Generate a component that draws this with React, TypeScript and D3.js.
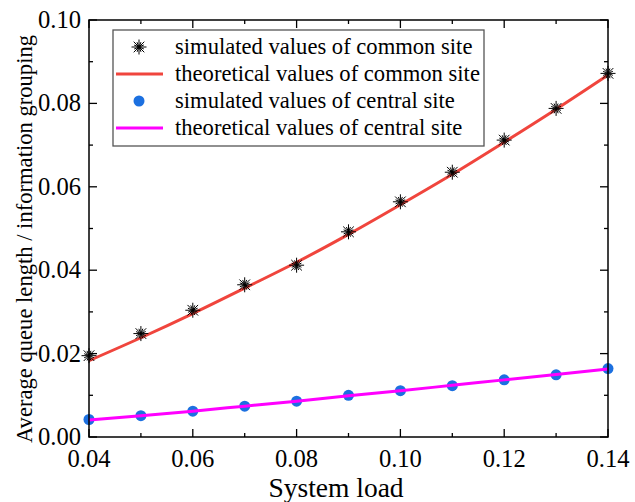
import React from "react";
import * as d3 from "d3";

// System load values (x axis)
const loads = [0.04, 0.05, 0.06, 0.07, 0.08, 0.09, 0.10, 0.11, 0.12, 0.13, 0.14];

// Common site: simulated and theoretical average queue length
const commonSimulated = [0.0195, 0.0248, 0.0304, 0.0365, 0.0412, 0.0492, 0.0564, 0.0635, 0.0712, 0.0788, 0.0872];
const commonTheoretical = [0.0183, 0.0238, 0.0296, 0.0357, 0.0419, 0.0486, 0.0557, 0.0630, 0.0707, 0.0786, 0.0868];

// Central site: simulated and theoretical average queue length
const centralSimulated = [0.0042, 0.0051, 0.0062, 0.0074, 0.0086, 0.0100, 0.0111, 0.0123, 0.0137, 0.0149, 0.0164];
const centralTheoretical = [0.0041, 0.0051, 0.0062, 0.0074, 0.0086, 0.0099, 0.0111, 0.0124, 0.0137, 0.0150, 0.0163];

const xTicks = [0.04, 0.06, 0.08, 0.10, 0.12, 0.14];
const xMinor = [0.05, 0.07, 0.09, 0.11, 0.13];
const yTicks = [0.0, 0.02, 0.04, 0.06, 0.08, 0.10];
const yMinor = [0.01, 0.03, 0.05, 0.07, 0.09];

const legendLabels = [
  "simulated values of common site",
  "theoretical values of common site",
  "simulated values of central site",
  "theoretical values of central site",
];

const RED = "#f0453d";
const MAGENTA = "#ff00ff";
const BLUE = "#1c70e0";
const FONT = '"Liberation Serif", "DejaVu Serif", serif';

const W = 635;
const H = 502;
const M = { left: 89, right: 608, top: 20, bottom: 437 };

// Asterisk-style marker built from several crossing strokes
function Star({ cx, cy }: { cx: number; cy: number }) {
  const r = 7.5;
  const angles = [0, 45, 90, 135, 22, 112, 67, 157];
  return (
    <g stroke="#000" strokeWidth={1}>
      {angles.map((a, i) => {
        const rad = (a * Math.PI) / 180;
        const rr = i < 4 ? r : r * 0.7;
        const dx = Math.cos(rad) * rr;
        const dy = Math.sin(rad) * rr;
        return <line key={i} x1={cx - dx} y1={cy - dy} x2={cx + dx} y2={cy + dy} />;
      })}
    </g>
  );
}

export default function App() {
  const x = d3.scaleLinear().domain([0.04, 0.14]).range([M.left, M.right]);
  const y = d3.scaleLinear().domain([0, 0.1]).range([M.bottom, M.top]);

  const line = d3
    .line<number>()
    .x((_, i) => x(loads[i]))
    .y((d) => y(d))
    .curve(d3.curveMonotoneX);

  const majorLen = 8;
  const minorLen = 4;

  const legX = 113;
  const legY = 30;
  const legW = 371;
  const legH = 116;
  const rowY = [47, 74, 101, 128];
  const textStyle = { fontFamily: FONT };

  return (
    <svg width={W} height={H} style={{ position: "absolute", left: 0, top: 0 }}>
      <rect width={W} height={H} fill="#fff" />

      {/* series */}
      <path d={line(commonTheoretical) || ""} fill="none" stroke={RED} strokeWidth={3} />
      {commonSimulated.map((v, i) => (
        <Star key={i} cx={x(loads[i])} cy={y(v)} />
      ))}
      {centralSimulated.map((v, i) => (
        <circle key={i} cx={x(loads[i])} cy={y(v)} r={5.5} fill={BLUE} />
      ))}
      <path d={line(centralTheoretical) || ""} fill="none" stroke={MAGENTA} strokeWidth={3} />

      {/* frame */}
      <rect
        x={M.left}
        y={M.top}
        width={M.right - M.left}
        height={M.bottom - M.top}
        fill="none"
        stroke="#000"
        strokeWidth={1.5}
      />

      {/* ticks on all four sides, pointing inward */}
      <g stroke="#000" strokeWidth={1.3}>
        {xTicks.map((t) => (
          <g key={"xm" + t}>
            <line x1={x(t)} x2={x(t)} y1={M.bottom} y2={M.bottom - majorLen} />
            <line x1={x(t)} x2={x(t)} y1={M.top} y2={M.top + majorLen} />
          </g>
        ))}
        {xMinor.map((t) => (
          <g key={"xn" + t}>
            <line x1={x(t)} x2={x(t)} y1={M.bottom} y2={M.bottom - minorLen} />
            <line x1={x(t)} x2={x(t)} y1={M.top} y2={M.top + minorLen} />
          </g>
        ))}
        {yTicks.map((t) => (
          <g key={"ym" + t}>
            <line x1={M.left} x2={M.left + majorLen} y1={y(t)} y2={y(t)} />
            <line x1={M.right} x2={M.right - majorLen} y1={y(t)} y2={y(t)} />
          </g>
        ))}
        {yMinor.map((t) => (
          <g key={"yn" + t}>
            <line x1={M.left} x2={M.left + minorLen} y1={y(t)} y2={y(t)} />
            <line x1={M.right} x2={M.right - minorLen} y1={y(t)} y2={y(t)} />
          </g>
        ))}
      </g>

      {/* tick labels */}
      <g fill="#000">
        {xTicks.map((t) => (
          <text key={"xl" + t} x={x(t)} y={467} fontSize={24.6} textAnchor="middle" style={textStyle}>
            {d3.format(".2f")(t)}
          </text>
        ))}
        {yTicks.map((t) => (
          <text key={"yl" + t} x={M.left - 8} y={y(t) + 8} fontSize={24.6} textAnchor="end" style={textStyle}>
            {d3.format(".2f")(t)}
          </text>
        ))}
      </g>

      {/* axis titles */}
      <text x={336} y={497} fontSize={27.5} textAnchor="middle" fill="#000" style={textStyle}>
        System load
      </text>
      <text
        transform={`translate(32, 239) rotate(-90)`}
        fontSize={22.6}
        textAnchor="middle"
        fill="#000"
        style={textStyle}
      >
        Average queue length / information grouping
      </text>

      {/* legend */}
      <rect x={legX} y={legY} width={legW} height={legH} fill="#fff" stroke="#555" strokeWidth={1.3} />
      <Star cx={139} cy={rowY[0]} />
      <line x1={116} x2={163} y1={rowY[1]} y2={rowY[1]} stroke={RED} strokeWidth={3} />
      <circle cx={139} cy={rowY[2]} r={5.5} fill={BLUE} />
      <line x1={116} x2={163} y1={rowY[3]} y2={rowY[3]} stroke={MAGENTA} strokeWidth={3} />
      <g fill="#000">
        {legendLabels.map((l, i) => (
          <text key={l} x={175} y={rowY[i] + 7} fontSize={22.6} style={textStyle}>
            {l}
          </text>
        ))}
      </g>
    </svg>
  );
}
